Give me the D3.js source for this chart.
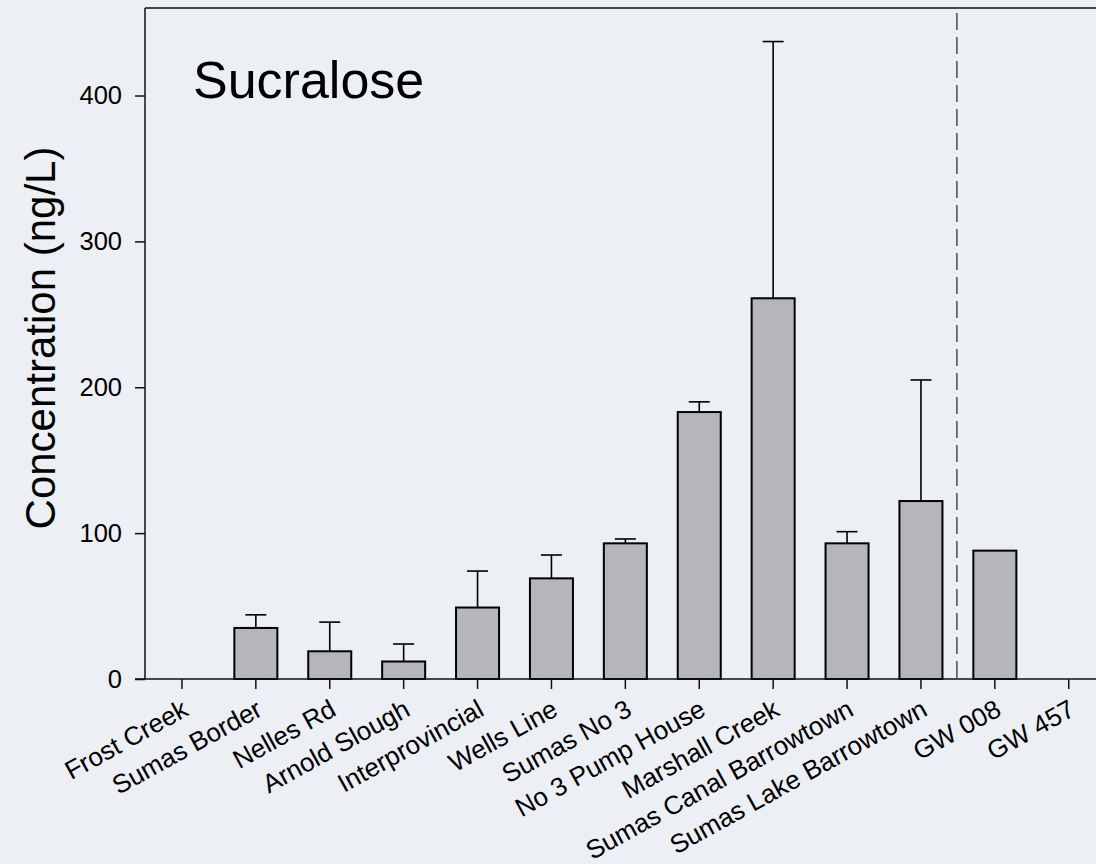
<!DOCTYPE html>
<html>
<head>
<meta charset="utf-8">
<script src="https://cdn.jsdelivr.net/npm/d3@7"></script>
<style>
  html, body { margin: 0; padding: 0; background: #ECEFF4; }
  svg { display: block; }
</style>
</head>
<body>
<svg id="chart" width="1096" height="864"></svg>
<script>
const categories = ["Frost Creek", "Sumas Border", "Nelles Rd", "Arnold Slough", "Interprovincial",
  "Wells Line", "Sumas No 3", "No 3 Pump House", "Marshall Creek", "Sumas Canal Barrowtown",
  "Sumas Lake Barrowtown", "GW 008", "GW 457"];
const means = [0, 35, 19, 12, 49, 69, 93, 183, 261, 93, 122, 88, 0];
const upperErr = [null, 44, 39, 24, 74, 85, 96, 190, 437, 101, 205, null, null];
const yTicks = [0, 100, 200, 300, 400];
const chartTitle = "Sucralose";
const yLabel = "Concentration (ng/L)";
const dividerBetween = ["Sumas Lake Barrowtown", "GW 008"];

const FONT = "'Liberation Sans', Arial, Helvetica, sans-serif";
const svg = d3.select("#chart");
const pLeft = 145, pTop = 8, pBottom = 679, bandStep = 73.9;
const pRight = pLeft + bandStep * categories.length;

const x = d3.scaleBand().domain(categories).range([pLeft, pRight])
  .paddingInner(0.418).paddingOuter(0.209);
const y = d3.scaleLinear().domain([0, 460]).range([pBottom, pTop]);

const data = categories.map((c, i) => ({ c, v: means[i], u: upperErr[i] }));

// bars
svg.append("g").selectAll("rect")
  .data(data.filter(d => d.v > 0))
  .join("rect")
  .attr("x", d => x(d.c))
  .attr("y", d => y(d.v))
  .attr("width", x.bandwidth())
  .attr("height", d => y(0) - y(d.v))
  .attr("fill", "#B4B6BA")
  .attr("stroke", "#000")
  .attr("stroke-width", 2);

// error bars
const eb = svg.append("g").attr("stroke", "#000").attr("stroke-width", 1.6);
const withErr = data.filter(d => d.u != null);
eb.selectAll("line.v").data(withErr).join("line").attr("class", "v")
  .attr("x1", d => x(d.c) + x.bandwidth() / 2).attr("x2", d => x(d.c) + x.bandwidth() / 2)
  .attr("y1", d => y(d.v)).attr("y2", d => y(d.u));
eb.selectAll("line.cap").data(withErr).join("line").attr("class", "cap")
  .attr("x1", d => x(d.c) + x.bandwidth() / 2 - 10.5).attr("x2", d => x(d.c) + x.bandwidth() / 2 + 10.5)
  .attr("y1", d => y(d.u)).attr("y2", d => y(d.u));

// dashed divider
const divX = (x(dividerBetween[0]) + x(dividerBetween[1]) + x.bandwidth()) / 2 - 1;
svg.append("line")
  .attr("x1", divX).attr("x2", divX).attr("y1", 13).attr("y2", pBottom)
  .attr("stroke", "#222").attr("stroke-width", 1.2)
  .attr("stroke-dasharray", "17,7");

// frame (top and right)
svg.append("path")
  .attr("d", `M${pLeft},${pTop}H${pRight}V${pBottom}`)
  .attr("fill", "none").attr("stroke", "#111").attr("stroke-width", 1.5);

// y axis
const yAxis = svg.append("g")
  .attr("transform", `translate(${pLeft},0)`)
  .call(d3.axisLeft(y).tickValues(yTicks).tickSize(10).tickPadding(13).tickFormat(d3.format("d")));
yAxis.select(".domain").attr("d", `M0,${pTop}V${pBottom}`).attr("stroke", "#111").attr("stroke-width", 1.5);
yAxis.selectAll(".tick line").attr("stroke", "#111").attr("stroke-width", 1.5);
yAxis.selectAll("text").attr("font-family", FONT).attr("font-size", 25.5).attr("fill", "#000");

// x axis
const xAxis = svg.append("g")
  .attr("transform", `translate(0,${pBottom})`)
  .call(d3.axisBottom(x).tickSize(10).tickPadding(0));
xAxis.select(".domain").attr("d", `M${pLeft - 10},0H${pRight}`).attr("stroke", "#111").attr("stroke-width", 1.5);
xAxis.selectAll(".tick line").attr("stroke", "#111").attr("stroke-width", 1.5);
xAxis.selectAll("text")
  .attr("font-family", FONT).attr("font-size", 26).attr("fill", "#000")
  .attr("x", 0).attr("y", 0).attr("dy", 0)
  .attr("text-anchor", "end")
  .attr("transform", "translate(8,35.5) rotate(-29)");

// title
svg.append("text")
  .attr("x", 193).attr("y", 98)
  .attr("font-family", FONT).attr("font-size", 52).attr("fill", "#000")
  .text(chartTitle);

// y label
svg.append("text")
  .attr("transform", `translate(55,338) rotate(-90)`)
  .attr("text-anchor", "middle")
  .attr("font-family", FONT).attr("font-size", 42).attr("fill", "#000")
  .text(yLabel);
</script>
</body>
</html>
